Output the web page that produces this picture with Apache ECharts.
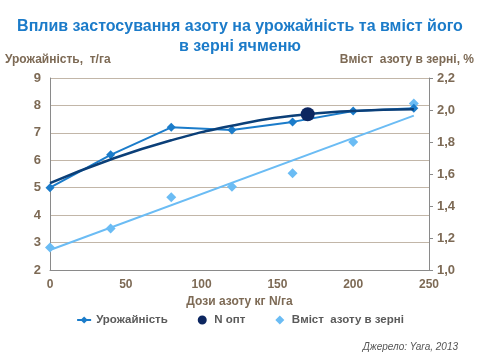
<!DOCTYPE html>
<html><head><meta charset="utf-8">
<script src="https://cdn.jsdelivr.net/npm/echarts@6/dist/echarts.min.js"></script>
<style>html,body{margin:0;padding:0;background:#fff}#c{width:480px;height:360px}</style>
</head><body><div id="c"></div>
<script>
const doses = [0, 40, 80, 120, 160, 200, 240];
const yieldVals = [5.0, 6.2, 7.2, 7.1, 7.4, 7.8, 7.9];
const yieldTrend = [5.17, 6.03, 6.73, 7.26, 7.62, 7.8, 7.86];
const nOpt = [170, 7.68];
const nContent = [1.14, 1.26, 1.455, 1.52, 1.605, 1.8, 2.04];
const nTrendX = [0, 240];
const nTrendVals = [1.125, 1.965];

const brown = '#7d6a55';
const font = 'Liberation Sans, Arial, sans-serif';
const chart = echarts.init(document.getElementById('c'), null, {renderer: 'canvas'});
const fmt = v => v.toFixed(1).replace('.', ',');
chart.setOption({
  animation: false,
  backgroundColor: '#fff',
  textStyle: {fontFamily: font},
  title: {
    text: 'Вплив застосування азоту на урожайність та вміст його\nв зерні ячменю',
    left: 'center', top: 12,
    textStyle: {fontSize: 16, fontWeight: 'bold', color: '#1b7bc9', lineHeight: 20, fontFamily: font}
  },
  grid: {left: 50, right: 51, top: 78, bottom: 90},
  legend: {
    bottom: 29, left: 'center', itemGap: 30, itemWidth: 14, itemHeight: 9,
    textStyle: {fontSize: 11.5, fontWeight: 'bold', color: '#5a5a5a', fontFamily: font},
    data: [
      {name: 'Урожайність'},
      {name: 'N опт', icon: 'path://M5,0A5,5,0,1,1,4.99,0Z', itemStyle: {color: '#0c2660', opacity: 1}},
      {name: 'Вміст  азоту в зерні', icon: 'path://M0,5L5,0L10,5L5,10Z', itemStyle: {color: '#6bbcf4', opacity: 1}}
    ]
  },
  graphic: [
    {type: 'text', left: 5, top: 54, style: {text: 'Урожайність,  т/га', font: 'bold 12px ' + font, fill: brown}},
    {type: 'text', right: 6, top: 54, style: {text: 'Вміст  азоту в зерні, %', font: 'bold 12px ' + font, fill: brown}},
    {type: 'text', right: 22, top: 342, style: {text: 'Джерело: Yara, 2013', font: 'italic 10px ' + font, fill: '#555'}}
  ],
  xAxis: {
    type: 'value', min: 0, max: 250, interval: 50,
    name: 'Дози азоту кг N/га', nameLocation: 'middle', nameGap: 23,
    nameTextStyle: {fontSize: 12, fontWeight: 'bold', color: brown},
    axisLine: {show: true, lineStyle: {color: '#8a8a8a', width: 1}},
    axisTick: {show: false},
    axisLabel: {fontSize: 12, fontWeight: 'bold', color: brown, margin: 9},
    splitLine: {show: false}
  },
  yAxis: [
    {
      type: 'value', min: 2, max: 9, interval: 1, position: 'left',
      axisLine: {show: true, lineStyle: {color: '#8a8a8a'}},
      axisTick: {show: false},
      axisLabel: {fontSize: 13, fontWeight: 'bold', color: brown, margin: 9},
      splitLine: {show: true, lineStyle: {color: '#c2b6a8', width: 1}}
    },
    {
      type: 'value', min: 1.0, max: 2.2, interval: 0.2, position: 'right',
      axisLine: {show: true, lineStyle: {color: '#8a8a8a'}},
      axisTick: {show: true, length: 4, lineStyle: {color: '#8a8a8a'}},
      axisLabel: {fontSize: 13, fontWeight: 'bold', color: brown, margin: 8, formatter: fmt},
      splitLine: {show: false}
    }
  ],
  series: [
    {
      name: 'Вміст  азоту в зерні', type: 'scatter', yAxisIndex: 1,
      symbol: 'diamond', symbolSize: 10,
      itemStyle: {color: '#6bbcf4', opacity: 1},
      data: doses.map((d, i) => [d, nContent[i]]), z: 2
    },
    {
      name: 'nTrend', type: 'line', yAxisIndex: 1, showSymbol: false, symbol: 'none',
      lineStyle: {color: '#6bbcf4', width: 2}, itemStyle: {color: '#6bbcf4'},
      data: nTrendX.map((d, i) => [d, nTrendVals[i]]), z: 2
    },
    {
      name: 'Урожайність', type: 'line', symbol: 'diamond', symbolSize: 9,
      lineStyle: {color: '#1b7cca', width: 2}, itemStyle: {color: '#1b7cca'},
      data: doses.map((d, i) => [d, yieldVals[i]]), z: 3
    },
    {
      name: 'yTrend', type: 'line', smooth: true, symbol: 'none',
      lineStyle: {color: '#0b3f78', width: 2.5}, itemStyle: {color: '#0b3f78'},
      data: doses.map((d, i) => [d, yieldTrend[i]]), z: 4
    },
    {
      name: 'N опт', type: 'scatter', symbol: 'circle', symbolSize: 14,
      itemStyle: {color: '#0c2660', opacity: 1},
      data: [nOpt], z: 5
    }
  ]
});
</script></body></html>
